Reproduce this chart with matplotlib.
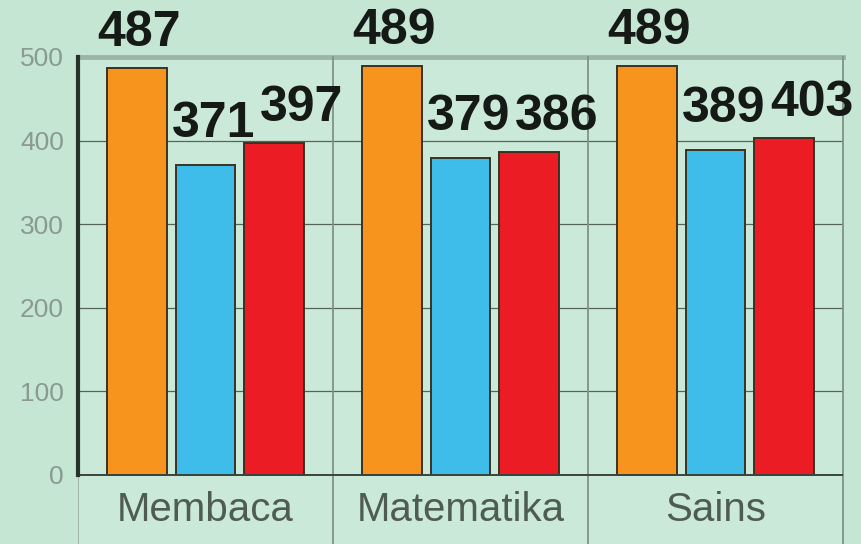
import matplotlib.pyplot as plt
import numpy as np

# data
categories = ["Membaca", "Matematika", "Sains"]
series_a = [487, 489, 489]   # orange
series_b = [371, 379, 389]   # blue
series_c = [397, 386, 403]   # red
yticks = [0, 100, 200, 300, 400, 500]

colors = ["#f7941d", "#3fbdea", "#ec1c24"]
label_dx = [2, 8, 28]      # pixel offsets of value labels
label_dy = [22, 28, 22]

bg = "#c6e6d4"

fig = plt.figure(figsize=(8.61, 5.44), dpi=100, facecolor=bg)
ax = fig.add_axes([78 / 861, 0, 765 / 861, 1 - 57 / 544])
ax.set_facecolor("#cbe9d9")

ax.set_xlim(0, 3)
ax.set_ylim(-82.6, 500)

x = np.arange(len(categories)) + 0.5
step = 0.267
width = 0.235

for i, (vals, col) in enumerate(zip([series_a, series_b, series_c], colors)):
    xs = x + (i - 1) * step
    ax.bar(xs, vals, width=width, color=col, edgecolor="#3b3222",
           linewidth=1.4, zorder=3)
    for xi, v in zip(xs, vals):
        ax.annotate(str(v), (xi, v), xytext=(label_dx[i], label_dy[i]),
                    textcoords="offset pixels", ha="center", va="baseline",
                    fontsize=36, fontweight="bold", family="Liberation Sans",
                    color="#161a17", annotation_clip=False, zorder=5)

# gridlines
for t in yticks[1:-1]:
    ax.axhline(t, color="#56645b", lw=0.9, zorder=1)
ax.axhline(500, color="#9cb5a6", lw=3.5, zorder=1, clip_on=False)
ax.axhline(0, color="#3a443d", lw=1.4, zorder=4)

# group dividers
for d in [1, 2, 3]:
    ax.axvline(d, color="#7f9286", lw=1.3, zorder=2, clip_on=False)
ax.axvline(0, ymin=0, ymax=82.6 / 582.6, color="#9aaea2", lw=1.3, zorder=2)

for s in ax.spines.values():
    s.set_visible(False)
ax.spines["left"].set_visible(True)
ax.spines["left"].set_bounds(0, 500)
ax.spines["left"].set_color("#27322b")
ax.spines["left"].set_linewidth(3)
ax.spines["left"].set_zorder(6)

ax.set_yticks(yticks)
ax.set_yticklabels([str(t) for t in yticks], fontsize=19,
                   family="Liberation Sans", color="#8a9a90")
ax.tick_params(axis="y", length=0, pad=10)
ax.set_xticks([])

for xi, c in zip(x, categories):
    ax.text(xi, -42, c, ha="center", va="center", fontsize=29,
            family="Liberation Sans", color="#4f5c54")

fig.savefig("out.png", dpi=100, facecolor=bg)
